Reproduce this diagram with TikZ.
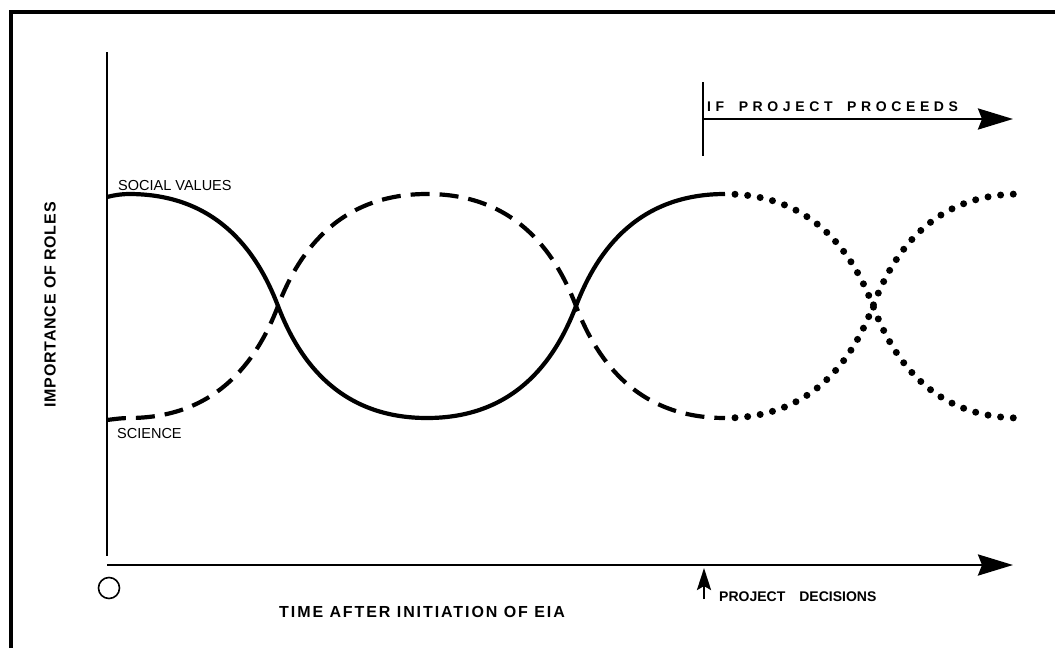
\documentclass[tikz,border=0pt]{standalone}
\usepackage{fontspec}
\setmainfont{Liberation Sans}
\usetikzlibrary{arrows.meta}
\begin{document}
\begin{tikzpicture}[x=1pt,y=-1pt,
  lbl/.style={font=\fontsize{14.5}{16}\selectfont, inner sep=0pt},
  blbl/.style={font=\fontsize{14}{16}\selectfont\bfseries, inner sep=0pt},
  axisline/.style={line width=2.8pt},
  bigarrow/.style={axisline, -{Stealth[length=35pt,width=21pt,inset=4pt]}},
  smallarrow/.style={line width=2.8pt, -{Stealth[length=22pt,width=14pt,inset=4pt]}},
  curve/.style={line width=4.2pt},
  dashcurve/.style={curve, dash pattern=on 19pt off 10pt},
  dotcurve/.style={line width=7pt, line cap=round, dash pattern=on 0pt off 12.7pt, dash phase=2.7pt},
]
\useasboundingbox (0,0) rectangle (1055,648);
% frame
\draw[line width=4pt] (11,648) -- (11,12) -- (1055,12);

% axes
\coordinate (ytop) at (107,52);
\coordinate (ybot) at (107,556);
\coordinate (xstart) at (107,565);
\coordinate (xend) at (1013,565);
\draw[axisline] (ytop) -- (ybot);
\draw[bigarrow] (xstart) -- (xend);
\node[draw, circle, line width=1.6pt, minimum size=21pt, inner sep=0pt] (origin) at (109,588) {};

% project decisions
\coordinate (pdbot) at (704,599);
\coordinate (pdtop) at (704,568);
\draw[smallarrow] (pdbot) -- (pdtop);
\node[blbl, anchor=base west] (pd) at (719,601) {PROJECT\hspace{14pt}DECISIONS};

% if project proceeds
\coordinate (ticktop) at (703,82);
\coordinate (tickbot) at (703,156);
\coordinate (ppstart) at (703,119);
\coordinate (ppend) at (1013,119);
\draw[axisline] (ticktop) -- (tickbot);
\draw[bigarrow] (ppstart) -- (ppend);
\node[font=\fontsize{14}{16}\selectfont\bfseries\addfontfeature{LetterSpace=33}, inner sep=0pt, anchor=base west] (pp) at (707,111) {IF\hspace{6pt} PROJECT\hspace{6pt} PROCEEDS};

% axis labels
\node[font=\fontsize{16}{18}\selectfont\bfseries\addfontfeature{LetterSpace=12}, inner sep=0pt, anchor=center] (xlab) at (422,612) {TIME AFTER INITIATION OF EIA};
\node[font=\fontsize{16}{18}\selectfont\bfseries\addfontfeature{LetterSpace=5}, inner sep=0pt, rotate=90, anchor=center] (ylab) at (50,305) {IMPORTANCE OF ROLES};

% curve labels
\node[lbl, anchor=base west] (sv) at (118,190) {SOCIAL VALUES};
\node[lbl, anchor=base west] (sc) at (117,438) {SCIENCE};

% social values (solid then dotted)
\draw[curve] (107,197) .. controls (115,195) and (122,194) .. (129,194)
  .. controls (214,194) and (256,248) .. (278,306)
  .. controls (300,364) and (342,418) .. (427,418)
  .. controls (512,418) and (554,364) .. (576,306)
  .. controls (598,248) and (640,194) .. (725,194);
\draw[dotcurve] (725,194)
  .. controls (809,194) and (851,248) .. (873,306)
  .. controls (895,364) and (936,418) .. (1020,418);

% science (dashed then dotted)
\draw[dashcurve] (107,420) .. controls (115,419) and (122,418) .. (129,418)
  .. controls (214,418) and (256,364) .. (278,306)
  .. controls (300,248) and (342,194) .. (427,194)
  .. controls (512,194) and (554,248) .. (576,306)
  .. controls (598,364) and (640,418) .. (725,418);
\draw[dotcurve] (725,418)
  .. controls (809,418) and (851,364) .. (873,306)
  .. controls (895,248) and (936,194) .. (1020,194);
\end{tikzpicture}
\end{document}
